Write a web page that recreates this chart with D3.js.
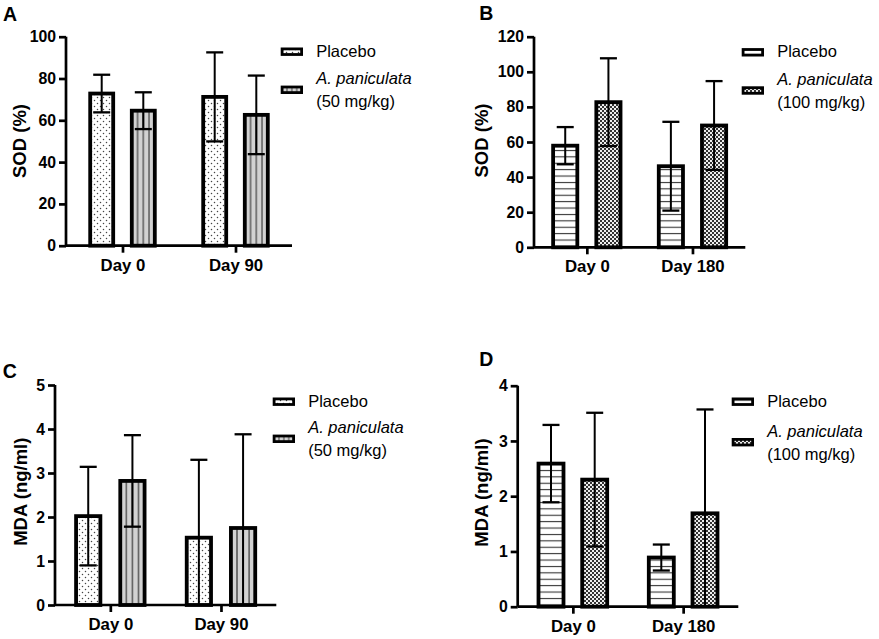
<!DOCTYPE html>
<html><head><meta charset="utf-8">
<script src="https://cdn.jsdelivr.net/npm/d3@7"></script>
<style>body{margin:0;background:#fff}svg{display:block}text{font-family:"Liberation Sans",Arial,sans-serif;fill:#000}</style>
</head><body><svg id="c" width="879" height="639"></svg>
<script>
// ---------- data ----------
const daysAC = ["Day 0", "Day 90"];
const daysBD = ["Day 0", "Day 180"];
const seriesKeys = ["placebo", "ap"];
const legendPlacebo = "Placebo";
const legendAP = "A. paniculata";
const doseAC = "(50 mg/kg)";
const doseBD = "(100 mg/kg)";

const sodA_placebo = [72.8, 71.2], sodA_placeboSD = [9.0, 21.3];
const sodA_ap = [64.6, 62.6], sodA_apSD = [8.8, 18.8];
const sodB_placebo = [57.9, 46.2], sodB_placeboSD = [10.6, 25.3];
const sodB_ap = [82.7, 69.4], sodB_apSD = [25.0, 25.3];
const mdaC_placebo = [2.02, 1.53], mdaC_placeboSD = [1.12, 1.77];
const mdaC_ap = [2.82, 1.75], mdaC_apSD = [1.04, 2.13];
const mdaD_placebo = [2.59, 0.89], mdaD_placeboSD = [0.70, 0.235];
const mdaD_ap = [2.30, 1.69], mdaD_apSD = [1.21, 1.88];

const ticksA = [0, 20, 40, 60, 80, 100];
const ticksB = [0, 20, 40, 60, 80, 100, 120];
const ticksC = [0, 1, 2, 3, 4, 5];
const ticksD = [0, 1, 2, 3, 4];

// ---------- drawing ----------
const FONT = '"Liberation Sans",Arial,sans-serif';
const svg = d3.select("#c");
const defs = svg.append("defs");

// dots
let p = defs.append("pattern").attr("id", "dots").attr("patternUnits", "userSpaceOnUse").attr("width", 6).attr("height", 6);
p.append("rect").attr("width", 6).attr("height", 6).attr("fill", "#fff");
p.append("circle").attr("cx", 1.5).attr("cy", 1.5).attr("r", 0.75).attr("fill", "#444");
p.append("circle").attr("cx", 4.5).attr("cy", 4.5).attr("r", 0.75).attr("fill", "#444");
// vertical lines (3 internal dividers)
p = defs.append("pattern").attr("id", "vlines").attr("patternUnits", "objectBoundingBox")
  .attr("patternContentUnits", "objectBoundingBox").attr("width", 0.25).attr("height", 1);
p.append("rect").attr("width", 0.25).attr("height", 1).attr("fill", "#d2d2d2");
p.append("rect").attr("x", 0).attr("width", 0.022).attr("height", 1).attr("fill", "#222");
p.append("rect").attr("x", 0.228).attr("width", 0.022).attr("height", 1).attr("fill", "#222");
// horizontal lines
p = defs.append("pattern").attr("id", "hlines").attr("patternUnits", "userSpaceOnUse").attr("width", 8).attr("height", 6.4);
p.append("rect").attr("width", 8).attr("height", 6.4).attr("fill", "#fff");
p.append("rect").attr("y", 2.7).attr("width", 8).attr("height", 1.1).attr("fill", "#333");
// checker
p = defs.append("pattern").attr("id", "checker").attr("patternUnits", "userSpaceOnUse").attr("width", 4).attr("height", 4);
p.append("rect").attr("width", 4).attr("height", 4).attr("fill", "#eeeeee");
p.append("rect").attr("width", 2).attr("height", 2).attr("fill", "#333");
p.append("rect").attr("x", 2).attr("y", 2).attr("width", 2).attr("height", 2).attr("fill", "#333");

function drawPanel(cfg) {
  const g = svg.append("g");
  const y = d3.scaleLinear().domain([0, cfg.yMax]).range([cfg.yBottom, cfg.yTop]);
  const x = d3.scalePoint().domain(cfg.categories).range([cfg.x0, cfg.x1]).padding(0.5);
  const inner = d3.scaleBand().domain(seriesKeys)
    .range([-(cfg.step + cfg.barW) / 2, (cfg.step + cfg.barW) / 2])
    .paddingInner(1 - cfg.barW / cfg.step).paddingOuter(0);
  const fills = {placebo: cfg.fillP, ap: cfg.fillA};
  const rows = [];
  cfg.categories.forEach((c, i) => {
    rows.push({c, k: "placebo", v: cfg.placebo[i], sd: cfg.placeboSD[i]});
    rows.push({c, k: "ap", v: cfg.ap[i], sd: cfg.apSD[i]});
  });
  // bars
  g.selectAll("rect.bar").data(rows).join("rect").attr("class", "bar")
    .attr("x", d => x(d.c) + inner(d.k)).attr("width", inner.bandwidth())
    .attr("y", d => y(d.v)).attr("height", d => y(0) - y(d.v))
    .attr("fill", d => `url(#${fills[d.k]})`).attr("stroke", "#000").attr("stroke-width", 3.8);
  // error bars
  const capW = 17;
  rows.forEach(d => {
    const cx = x(d.c) + inner(d.k) + inner.bandwidth() / 2;
    const hi = d.v + d.sd, lo = Math.max(0, d.v - d.sd);
    g.append("line").attr("x1", cx).attr("x2", cx).attr("y1", y(hi)).attr("y2", y(lo))
      .attr("stroke", "#000").attr("stroke-width", 2);
    g.append("line").attr("x1", cx - capW / 2).attr("x2", cx + capW / 2).attr("y1", y(hi)).attr("y2", y(hi))
      .attr("stroke", "#000").attr("stroke-width", 2.3);
    if (d.v - d.sd > 0)
      g.append("line").attr("x1", cx - capW / 2).attr("x2", cx + capW / 2).attr("y1", y(lo)).attr("y2", y(lo))
        .attr("stroke", "#000").attr("stroke-width", 2.3);
  });
  // axes
  const yAxis = g.append("g").attr("transform", `translate(${cfg.x0},0)`)
    .call(d3.axisLeft(y).tickValues(cfg.ticks).tickSize(7).tickPadding(3).tickFormat(d3.format("d")));
  yAxis.select(".domain").attr("d", `M0,${cfg.yTop}V${cfg.yBottom}`).attr("stroke-width", 2.7);
  yAxis.selectAll(".tick line").attr("stroke-width", 2.7);
  yAxis.selectAll(".tick text").attr("font-size", 15.8).attr("font-weight", "bold").attr("font-family", FONT);
  const xAxis = g.append("g").attr("transform", `translate(0,${cfg.yBottom})`)
    .call(d3.axisBottom(x).tickSize(7).tickPadding(6));
  xAxis.select(".domain").attr("d", `M${cfg.x0},0H${cfg.x1}`).attr("stroke-width", 2.7);
  xAxis.selectAll(".tick line").attr("stroke-width", 2.7);
  xAxis.selectAll(".tick text").attr("font-size", 16.8).attr("font-weight", "bold").attr("font-family", FONT);
  // y title
  g.append("text").attr("transform", `translate(${cfg.titleX},${cfg.titleY}) rotate(-90)`)
    .attr("text-anchor", "middle").attr("dy", "0.36em").attr("font-size", cfg.titleSize).attr("font-weight", "bold")
    .text(cfg.title);
  // panel letter
  g.append("text").attr("x", cfg.letterX).attr("y", cfg.letterY).attr("font-size", 19.5).attr("font-weight", "bold")
    .text(cfg.letter);
  // legend
  const L = cfg.legend;
  const sw = (cy, fill) => g.append("rect").attr("x", L.x + 1.4).attr("y", cy - 2.8).attr("width", 19.5).attr("height", 5.6)
    .attr("fill", `url(#${fill})`).attr("stroke", "#000").attr("stroke-width", 2.8);
  sw(L.y1 - 5, cfg.fillP);
  sw(L.y2 + 5.5, cfg.fillA);
  g.append("text").attr("x", L.x + 35.5).attr("y", L.y1).attr("font-size", 16.5).text(legendPlacebo);
  g.append("text").attr("x", L.x + 35.5).attr("y", L.y2).attr("font-size", 16.5).attr("font-style", "italic").text(legendAP);
  g.append("text").attr("x", L.x + 35.5).attr("y", L.y2 + 23).attr("font-size", 16.5).text(cfg.dose);
}

drawPanel({letter: "A", letterX: 3, letterY: 20.5, categories: daysAC,
  placebo: sodA_placebo, placeboSD: sodA_placeboSD, ap: sodA_ap, apSD: sodA_apSD,
  x0: 66, x1: 292, yTop: 36.7, yBottom: 245.7, yMax: 100, ticks: ticksA,
  step: 41.6, barW: 23, fillP: "dots", fillA: "vlines",
  title: "SOD (%)", titleX: 19, titleY: 141, titleSize: 18.5, dose: doseAC,
  legend: {x: 280.7, y1: 56.7, y2: 84.3}});

drawPanel({letter: "B", letterX: 479.3, letterY: 19.5, categories: daysBD,
  placebo: sodB_placebo, placeboSD: sodB_placeboSD, ap: sodB_ap, apSD: sodB_apSD,
  x0: 534, x1: 745.3, yTop: 36.7, yBottom: 247.3, yMax: 120, ticks: ticksB,
  step: 43.2, barW: 24.2, fillP: "hlines", fillA: "checker",
  title: "SOD (%)", titleX: 481.5, titleY: 140.5, titleSize: 18.5, dose: doseBD,
  legend: {x: 741.7, y1: 57.3, y2: 85}});

drawPanel({letter: "C", letterX: 2.7, letterY: 378.3, categories: daysAC,
  placebo: mdaC_placebo, placeboSD: mdaC_placeboSD, ap: mdaC_ap, apSD: mdaC_apSD,
  x0: 55, x1: 276.3, yTop: 385, yBottom: 605, yMax: 5, ticks: ticksC,
  step: 44.2, barW: 24.3, fillP: "dots", fillA: "vlines",
  title: "MDA (ng/ml)", titleX: 20.5, titleY: 491.7, titleSize: 18.5, dose: doseAC,
  legend: {x: 272.7, y1: 406.7, y2: 433.3}});

drawPanel({letter: "D", letterX: 479.3, letterY: 366, categories: daysBD,
  placebo: mdaD_placebo, placeboSD: mdaD_placeboSD, ap: mdaD_ap, apSD: mdaD_apSD,
  x0: 517.7, x1: 738.3, yTop: 385.7, yBottom: 606.7, yMax: 4, ticks: ticksD,
  step: 43.7, barW: 25, fillP: "hlines", fillA: "checker",
  title: "MDA (ng/ml)", titleX: 481.3, titleY: 492.5, titleSize: 18.5, dose: doseBD,
  legend: {x: 731.7, y1: 406.7, y2: 436.7}});
</script></body></html>
